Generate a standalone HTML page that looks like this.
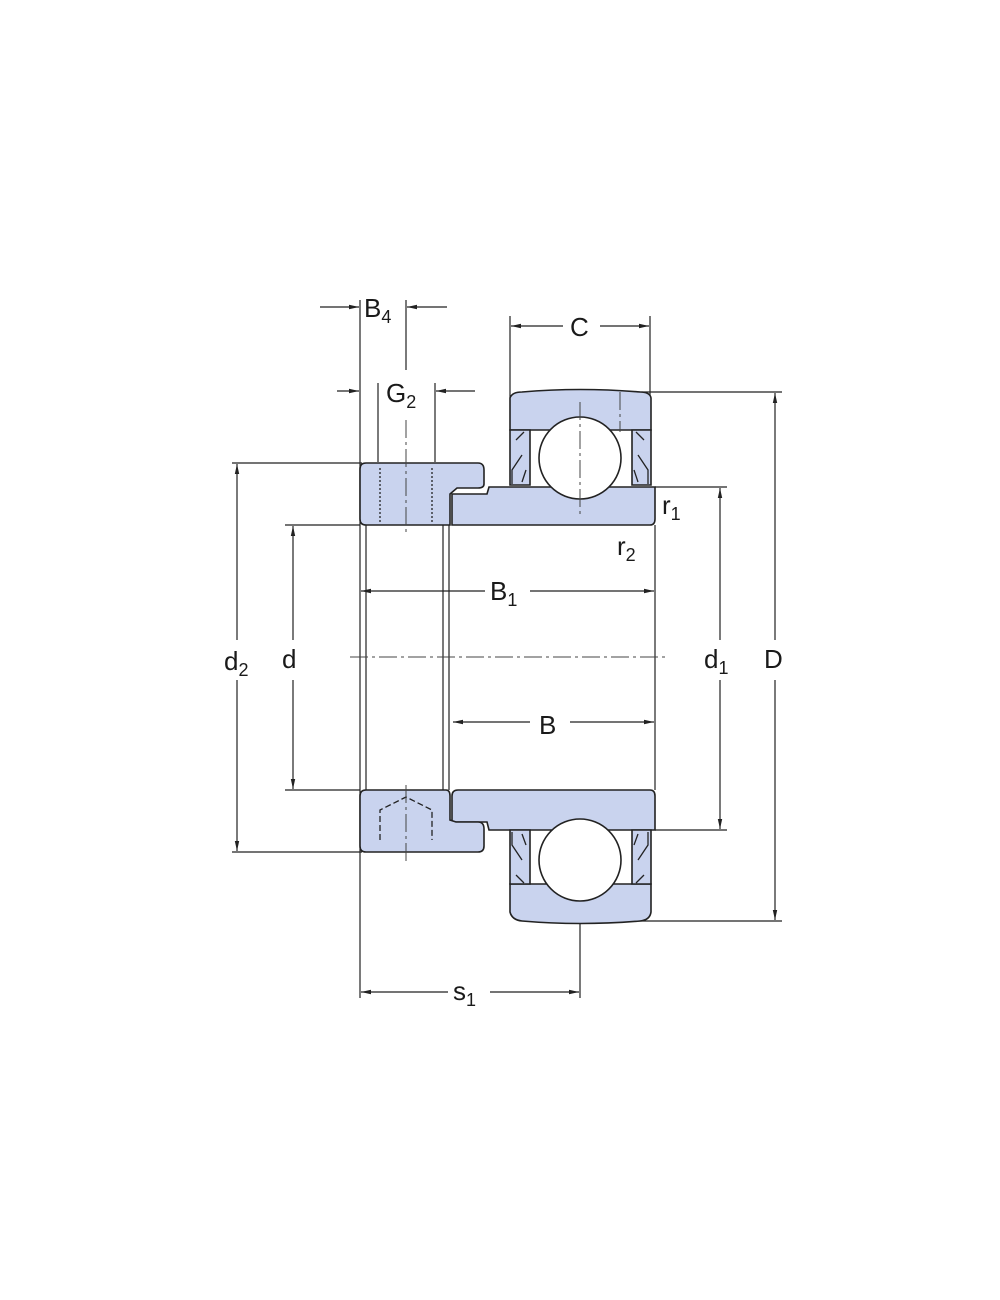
<!DOCTYPE html>
<html><head><meta charset="utf-8"><style>
html,body{margin:0;padding:0;background:#fff;}
svg{display:block}
text{font-family:"Liberation Sans",sans-serif;fill:#1a1a1a}
</style></head><body>
<svg width="1000" height="1300" viewBox="0 0 1000 1300" xmlns="http://www.w3.org/2000/svg">
<defs>
<marker id="a" markerWidth="10" markerHeight="6" refX="10" refY="3" orient="auto" markerUnits="userSpaceOnUse"><path d="M0,0.8 L10,3 L0,5.2 z" fill="#222"/></marker>
</defs>
<g stroke="#222" stroke-width="1.2" fill="none">
<!-- extension lines -->
<line x1="232" y1="463" x2="362" y2="463"/>
<line x1="232" y1="852" x2="362" y2="852"/>
<line x1="285" y1="525" x2="360" y2="525"/>
<line x1="285" y1="790" x2="360" y2="790"/>
<line x1="655" y1="487" x2="727" y2="487"/>
<line x1="655" y1="830" x2="727" y2="830"/>
<line x1="620" y1="392" x2="782" y2="392"/>
<line x1="600" y1="921" x2="782" y2="921"/>
<line x1="360" y1="300" x2="360" y2="998"/>
<line x1="406" y1="300" x2="406" y2="370"/>
<line x1="378" y1="383" x2="378" y2="462"/>
<line x1="435" y1="383" x2="435" y2="462"/>
<line x1="510" y1="316" x2="510" y2="398"/>
<line x1="650" y1="316" x2="650" y2="398"/>
<line x1="580" y1="840" x2="580" y2="998"/>
<!-- bore -->
<line x1="366" y1="525" x2="366" y2="790"/>
<line x1="443" y1="525" x2="443" y2="790"/>
<line x1="449" y1="525" x2="449" y2="790"/>
<line x1="655" y1="525" x2="655" y2="790"/>
<!-- dims -->
<line x1="237" y1="640" x2="237" y2="464" marker-end="url(#a)"/>
<line x1="237" y1="680" x2="237" y2="851" marker-end="url(#a)"/>
<line x1="293" y1="640" x2="293" y2="526" marker-end="url(#a)"/>
<line x1="293" y1="680" x2="293" y2="789" marker-end="url(#a)"/>
<line x1="720" y1="640" x2="720" y2="488" marker-end="url(#a)"/>
<line x1="720" y1="680" x2="720" y2="829" marker-end="url(#a)"/>
<line x1="775" y1="640" x2="775" y2="393" marker-end="url(#a)"/>
<line x1="775" y1="680" x2="775" y2="920" marker-end="url(#a)"/>
<line x1="485" y1="591" x2="361" y2="591" marker-end="url(#a)"/>
<line x1="530" y1="591" x2="654" y2="591" marker-end="url(#a)"/>
<line x1="530" y1="722" x2="453" y2="722" marker-end="url(#a)"/>
<line x1="570" y1="722" x2="654" y2="722" marker-end="url(#a)"/>
<line x1="448" y1="992" x2="361" y2="992" marker-end="url(#a)"/>
<line x1="490" y1="992" x2="579" y2="992" marker-end="url(#a)"/>
<line x1="563" y1="326" x2="511" y2="326" marker-end="url(#a)"/>
<line x1="600" y1="326" x2="649" y2="326" marker-end="url(#a)"/>
<line x1="320" y1="307" x2="359" y2="307" marker-end="url(#a)"/>
<line x1="447" y1="307" x2="407" y2="307" marker-end="url(#a)"/>
<line x1="337" y1="391" x2="359" y2="391" marker-end="url(#a)"/>
<line x1="475" y1="391" x2="436" y2="391" marker-end="url(#a)"/>
</g>
<!-- parts -->
<g fill="#c9d3ee" stroke="#222" stroke-width="1.6">
<!-- top outer ring -->
<path d="M510,398 Q512,392 522,392 Q580,387 640,392 Q650,392 651,398 L651,430 L510,430 Z"/>
<path d="M510,430 L510,485 L530,485 L530,430 Z" />
<path d="M632,430 L632,485 L651,485 L651,430 Z"/>
<!-- top collar -->
<path d="M366,463 L478,463 Q484,463 484,470 L484,484 Q484,488 478,488 L457,488 L450,494 L450,525 L366,525 Q360,525 360,519 L360,469 Q360,463 366,463 Z"/>
<!-- top inner ring -->
<path d="M452,494 L452,525 L650,525 Q655,525 655,519 L655,487 L489,487 L487,494 Z"/>
<!-- bottom inner ring -->
<path d="M452,796 Q452,790 458,790 L650,790 Q655,790 655,796 L655,830 L489,830 L487,822 L452,822 Z"/>
<!-- bottom collar -->
<path d="M366,790 L446,790 Q450,790 450,796 L450,820 L456,822 L478,822 Q484,822 484,829 L484,846 Q484,852 478,852 L366,852 Q360,852 360,846 L360,796 Q360,790 366,790 Z"/>
<!-- bottom outer ring -->
<path d="M510,884 L651,884 L651,912 Q650,920 640,921 Q580,926 522,921 Q512,920 510,912 Z"/>
<path d="M510,830 L510,884 L530,884 L530,830 Z"/>
<path d="M632,830 L632,884 L651,884 L651,830 Z"/>
</g>
<!-- balls -->
<g fill="#fff" stroke="#222" stroke-width="1.6">
<circle cx="580" cy="458" r="41"/>
<circle cx="580" cy="860" r="41"/>
</g>
<!-- seal details -->
<g stroke="#222" stroke-width="1.3" fill="none">
<path d="M516,440 L524,432 M522,455 L512,470 L512,484 M526,470 L522,482"/>
<path d="M644,440 L636,432 M638,455 L648,470 L648,484 M634,470 L638,482"/>
<path d="M516,875 L524,883 M522,860 L512,845 L512,832 M526,845 L522,834"/>
<path d="M644,875 L636,883 M638,860 L648,845 L648,832 M634,845 L638,834"/>
<path d="M380,468 L380,522 M432,468 L432,522" stroke-dasharray="2,2"/>
<path d="M380,840 L380,810 L406,797 L432,810 L432,840" stroke-dasharray="6,3"/>
</g>
<!-- center lines -->
<g stroke="#444" stroke-width="1" fill="none" stroke-dasharray="18,4,3,4">
<line x1="350" y1="657" x2="665" y2="657"/>
<line x1="406" y1="420" x2="406" y2="535"/>
<line x1="406" y1="785" x2="406" y2="862"/>
<line x1="580" y1="402" x2="580" y2="515"/>
<line x1="620" y1="392" x2="620" y2="432"/>
</g>
<g font-size="26">
<text x="224" y="670">d<tspan font-size="18" dy="6">2</tspan></text>
<text x="282" y="668">d</text>
<text x="704" y="668">d<tspan font-size="18" dy="6">1</tspan></text>
<text x="764" y="668">D</text>
<text x="490" y="600">B<tspan font-size="18" dy="6">1</tspan></text>
<text x="539" y="734">B</text>
<text x="453" y="1000">s<tspan font-size="18" dy="6">1</tspan></text>
<text x="570" y="336">C</text>
<text x="364" y="317">B<tspan font-size="18" dy="6">4</tspan></text>
<text x="386" y="402">G<tspan font-size="18" dy="6">2</tspan></text>
<text x="662" y="514">r<tspan font-size="18" dy="6">1</tspan></text>
<text x="617" y="555">r<tspan font-size="18" dy="6">2</tspan></text>
</g>
</svg>
</body></html>
